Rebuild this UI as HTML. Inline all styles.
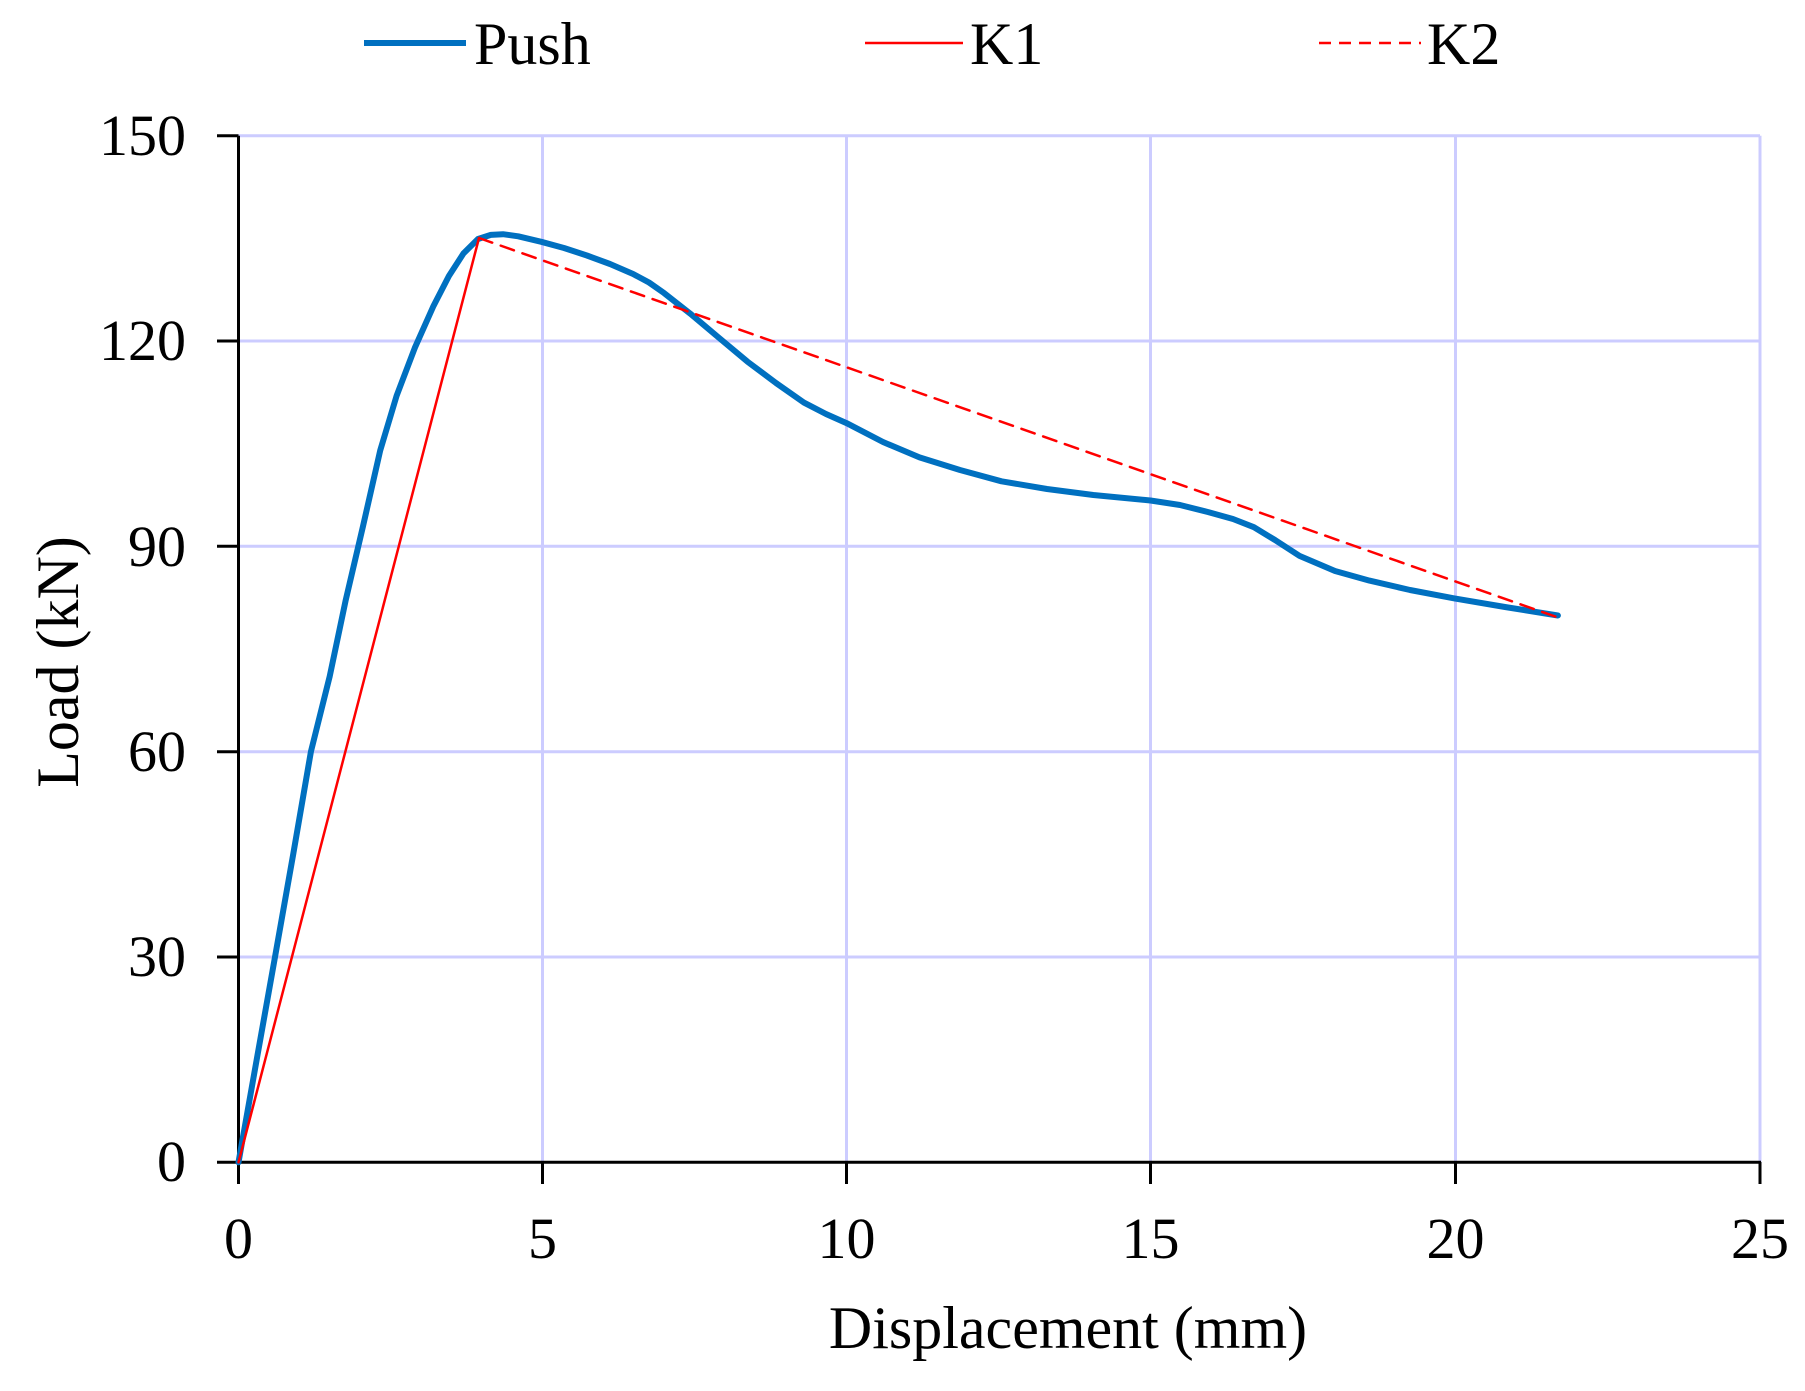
<!DOCTYPE html>
<html><head><meta charset="utf-8"><style>html,body{margin:0;padding:0;background:#fff}</style></head>
<body>
<svg width="1805" height="1386" viewBox="0 0 1805 1386" xmlns="http://www.w3.org/2000/svg" font-family="'Liberation Serif', serif">
<g stroke="#ccccff" stroke-width="3">
<line x1="238.5" y1="135.7" x2="1760" y2="135.7"/>
<line x1="238.5" y1="341" x2="1760" y2="341"/>
<line x1="238.5" y1="546.3" x2="1760" y2="546.3"/>
<line x1="238.5" y1="751.7" x2="1760" y2="751.7"/>
<line x1="238.5" y1="957" x2="1760" y2="957"/>
<line x1="542.5" y1="135.7" x2="542.5" y2="1162"/>
<line x1="846.5" y1="135.7" x2="846.5" y2="1162"/>
<line x1="1150.5" y1="135.7" x2="1150.5" y2="1162"/>
<line x1="1455.5" y1="135.7" x2="1455.5" y2="1162"/>
<line x1="1760" y1="135.7" x2="1760" y2="1162"/>
</g>
<g stroke="#000" stroke-width="3">
<line x1="238.5" y1="135.7" x2="238.5" y2="1162.3"/>
<line x1="217" y1="1162.3" x2="1761" y2="1162.3"/>
<line x1="217" y1="135.7" x2="238.5" y2="135.7"/>
<line x1="217" y1="341" x2="238.5" y2="341"/>
<line x1="217" y1="546.3" x2="238.5" y2="546.3"/>
<line x1="217" y1="751.7" x2="238.5" y2="751.7"/>
<line x1="217" y1="957" x2="238.5" y2="957"/>
<line x1="238.5" y1="1162" x2="238.5" y2="1184"/>
<line x1="542.5" y1="1162" x2="542.5" y2="1184"/>
<line x1="846.5" y1="1162" x2="846.5" y2="1184"/>
<line x1="1150.5" y1="1162" x2="1150.5" y2="1184"/>
<line x1="1455.5" y1="1162" x2="1455.5" y2="1184"/>
<line x1="1760" y1="1162" x2="1760" y2="1184"/>
</g>
<g font-size="58" text-anchor="end" fill="#000">
<text x="186" y="155">150</text>
<text x="186" y="360">120</text>
<text x="186" y="566">90</text>
<text x="186" y="771">60</text>
<text x="186" y="976">30</text>
<text x="186" y="1181">0</text>
</g>
<g font-size="58" text-anchor="middle" fill="#000">
<text x="238.5" y="1258">0</text>
<text x="542.5" y="1258">5</text>
<text x="846.5" y="1258">10</text>
<text x="1150.5" y="1258">15</text>
<text x="1455.5" y="1258">20</text>
<text x="1760" y="1258">25</text>
</g>
<text x="1068" y="1348" font-size="60" text-anchor="middle">Displacement (mm)</text>
<text transform="translate(78,662) rotate(-90)" font-size="60" text-anchor="middle">Load (kN)</text>
<line x1="364" y1="43" x2="466" y2="43" stroke="#0070c0" stroke-width="6"/>
<text x="474" y="64" font-size="60">Push</text>
<line x1="865" y1="43" x2="963" y2="43" stroke="#ff0000" stroke-width="2.5"/>
<text x="970" y="64" font-size="60">K1</text>
<line x1="1319" y1="43" x2="1421" y2="43" stroke="#ff0000" stroke-width="2.5" stroke-dasharray="12,8"/>
<text x="1427" y="64" font-size="60">K2</text>
<g fill="none" stroke-linejoin="round" stroke-linecap="round">
<polyline stroke="#0070c0" stroke-width="6" points="
238.5,1162.3 256.7,1059.6 275,957 293.2,854.3 310.9,751.7 329.7,676.4 345.5,601.1 363.1,525.8 380.2,450.5 396.6,395.8 414.8,347.9 433.1,306.8 448.9,276 463.5,253.4 478,239 490.8,234.9 503,234.2 518.2,236.3 541.3,241.8 564,248 586.9,255.5 610,264 633.1,274 649,282.5 664.1,293.1 690.2,313.6 718,337 747.4,361.6 776,383 803.9,402.6 826,414 846.5,423.1 883,442 919.5,457.4 960,470 1001.5,481.3 1047,489 1093.3,495 1150.5,500.5 1180,505 1208.3,512.1 1233,519 1253.9,527.2 1275,540 1299.5,555.9 1335,571 1369.4,580.6 1410,590 1454.5,598.4 1505,607 1557.9,615.5"/>
<line x1="238.5" y1="1162.3" x2="479" y2="238" stroke="#ff0000" stroke-width="2.5"/>
<line x1="479" y1="238" x2="1558" y2="617.5" stroke="#ff0000" stroke-width="2.5" stroke-dasharray="14,9"/>
</g>
</svg>
</body></html>
